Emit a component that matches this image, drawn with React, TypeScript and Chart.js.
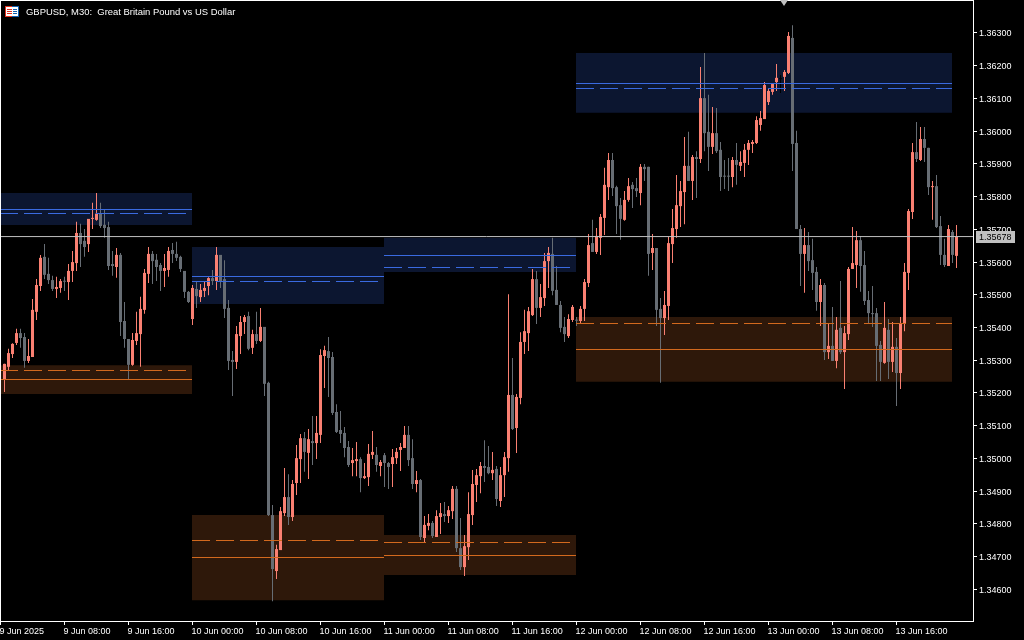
import React, { useEffect, useRef } from "react";
import { Chart, registerables } from "chart.js";

Chart.register(...registerables);

const opens = [
1.35242,1.35280,1.35319,1.35353,1.35383,1.35371,1.35298,1.35310,1.35448,1.35527,
1.35616,1.35564,1.35545,1.35518,1.35521,1.35542,1.35539,1.35573,1.35597,1.35689,
1.35665,1.35655,1.35732,1.35729,1.35748,1.35714,1.35707,1.35594,1.35585,1.35622,
1.35420,1.35365,1.35286,1.35359,1.35380,1.35454,1.35564,1.35625,1.35607,1.35591,
1.35573,1.35576,1.35637,1.35625,1.35616,1.35573,1.35509,1.35426,1.35518,1.35493,
1.35512,1.35527,1.35551,1.35542,1.35622,1.35548,1.35460,1.35301,1.35295,1.35374,
1.35417,1.35435,1.35338,1.35380,1.35359,1.35402,1.35231,1.34827,1.34656,1.34720,
1.34833,1.34882,1.34821,1.34925,1.34998,1.35062,1.35017,1.35053,1.35047,1.35072,
1.35313,1.35328,1.35310,1.35142,1.35087,1.35078,1.35035,1.34986,1.34992,1.34998,
1.34940,1.34943,1.35011,1.35011,1.34977,1.35010,1.34986,1.34983,1.35001,1.35026,
1.35032,1.35072,1.35001,1.34922,1.34934,1.34757,1.34794,1.34803,1.34760,1.34821,
1.34830,1.34824,1.34839,1.34907,1.34726,1.34668,1.34729,1.34827,1.34919,1.34946,
1.34977,1.34974,1.34955,1.34968,1.34870,1.34949,1.35001,1.35194,1.35093,1.35185,
1.35356,1.35383,1.35438,1.35548,1.35460,1.35490,1.35603,1.35625,1.35515,1.35469,
1.35402,1.35374,1.35423,1.35423,1.35420,1.35457,1.35536,1.35658,1.35631,1.35674,
1.35735,1.35829,1.35912,1.35829,1.35774,1.35729,1.35790,1.35836,1.35826,1.35811,
1.35891,1.35891,1.35628,1.35643,1.35457,1.35429,1.35466,1.35655,1.35701,1.35771,
1.35814,1.35894,1.35848,1.35921,1.35915,1.36101,1.35998,1.35952,1.35994,1.35943,
1.35863,1.35863,1.35860,1.35912,1.35894,1.35903,1.35943,1.35961,1.35964,1.36019,
1.36037,1.36089,1.36120,1.36150,1.36159,1.36166,1.36178,1.36285,1.35964,1.35701,
1.35625,1.35652,1.35606,1.35570,1.35478,1.35530,1.35325,1.35344,1.35298,1.35399,
1.35325,1.35380,1.35579,1.35591,1.35667,1.35591,1.35484,1.35444,1.35444,1.35347,
1.35292,1.35393,1.35295,1.35341,1.35261,1.35411,1.35567,1.35753,1.35936,1.35912,
1.35976,1.35949,1.35829,1.35832,1.35710,1.35622,1.35588,1.35692,1.35619,
];

const highs = [
1.35289,1.35335,1.35352,1.35396,1.35396,1.35383,1.35365,1.35487,1.35548,1.35622,
1.35655,1.35613,1.35558,1.35555,1.35548,1.35555,1.35594,1.35634,1.35723,1.35717,
1.35701,1.35732,1.35781,1.35811,1.35781,1.35759,1.35723,1.35634,1.35643,1.35628,
1.35478,1.35365,1.35383,1.35448,1.35494,1.35579,1.35646,1.35634,1.35625,1.35597,
1.35625,1.35646,1.35658,1.35662,1.35619,1.35573,1.35512,1.35530,1.35539,1.35533,
1.35539,1.35554,1.35576,1.35646,1.35622,1.35606,1.35484,1.35328,1.35405,1.35435,
1.35438,1.35448,1.35393,1.35448,1.35460,1.35402,1.35234,1.34858,1.34736,1.34852,
1.34971,1.34952,1.34934,1.35041,1.35075,1.35081,1.35090,1.35130,1.35130,1.35334,
1.35344,1.35371,1.35325,1.35166,1.35145,1.35096,1.35053,1.35032,1.35050,1.35004,
1.34986,1.35044,1.35084,1.35035,1.34995,1.35017,1.34989,1.35029,1.35032,1.35047,
1.35099,1.35099,1.35059,1.34962,1.34937,1.34824,1.34830,1.34809,1.34842,1.34864,
1.34867,1.34855,1.34916,1.34916,1.34818,1.34766,1.34897,1.34965,1.34968,1.34989,
1.35056,1.35038,1.35020,1.34977,1.34974,1.35020,1.35502,1.35307,1.35197,1.35386,
1.35454,1.35463,1.35579,1.35573,1.35533,1.35628,1.35646,1.35674,1.35588,1.35481,
1.35432,1.35441,1.35469,1.35432,1.35466,1.35548,1.35686,1.35729,1.35704,1.35747,
1.35888,1.35933,1.35933,1.35833,1.35796,1.35817,1.35857,1.35845,1.35857,1.35900,
1.35900,1.35891,1.35686,1.35643,1.35490,1.35512,1.35677,1.35762,1.35866,1.35848,
1.35982,1.35998,1.35927,1.35939,1.36196,1.36239,1.36111,1.36074,1.36071,1.35967,
1.35912,1.35918,1.35921,1.35964,1.35939,1.35961,1.35973,1.35973,1.36046,1.36062,
1.36150,1.36132,1.36146,1.36205,1.36172,1.36187,1.36303,1.36324,1.36001,1.35713,
1.35704,1.35692,1.35671,1.35585,1.35548,1.35536,1.35414,1.35463,1.35432,1.35542,
1.35405,1.35585,1.35707,1.35695,1.35680,1.35634,1.35512,1.35527,1.35460,1.35359,
1.35478,1.35426,1.35417,1.35368,1.35432,1.35597,1.35762,1.35964,1.36028,1.36013,
1.36013,1.35949,1.35848,1.35866,1.35741,1.35671,1.35713,1.35698,1.35713,
];

const lows = [
1.35203,1.35270,1.35307,1.35347,1.35338,1.35277,1.35292,1.35310,1.35423,1.35512,
1.35548,1.35533,1.35512,1.35490,1.35506,1.35512,1.35484,1.35539,1.35573,1.35585,
1.35616,1.35631,1.35701,1.35726,1.35704,1.35674,1.35576,1.35558,1.35552,1.35374,
1.35338,1.35243,1.35283,1.35347,1.35280,1.35442,1.35536,1.35533,1.35542,1.35512,
1.35524,1.35555,1.35597,1.35603,1.35570,1.35490,1.35475,1.35408,1.35460,1.35478,
1.35493,1.35499,1.35530,1.35515,1.35521,1.35429,1.35270,1.35191,1.35273,1.35319,
1.35380,1.35331,1.35319,1.35350,1.35356,1.35191,1.34824,1.34564,1.34632,1.34720,
1.34824,1.34797,1.34809,1.34888,1.34925,1.34959,1.34937,1.34980,1.34998,1.35047,
1.35215,1.35188,1.35133,1.35078,1.35047,1.35004,1.34974,1.34946,1.34946,1.34897,
1.34937,1.34916,1.34998,1.34959,1.34946,1.34913,1.34907,1.34913,1.34983,1.34962,
1.35032,1.34977,1.34907,1.34897,1.34751,1.34745,1.34781,1.34757,1.34760,1.34769,
1.34806,1.34803,1.34815,1.34714,1.34659,1.34641,1.34690,1.34797,1.34867,1.34894,
1.34928,1.34952,1.34934,1.34855,1.34852,1.34882,1.34959,1.35087,1.35017,1.35166,
1.35319,1.35328,1.35435,1.35411,1.35432,1.35466,1.35521,1.35499,1.35469,1.35386,
1.35356,1.35368,1.35417,1.35405,1.35414,1.35420,1.35524,1.35631,1.35625,1.35622,
1.35683,1.35790,1.35802,1.35686,1.35668,1.35726,1.35784,1.35765,1.35799,1.35774,
1.35848,1.35558,1.35576,1.35405,1.35231,1.35377,1.35423,1.35597,1.35674,1.35707,
1.35716,1.35848,1.35790,1.35796,1.35903,1.35939,1.35878,1.35930,1.35933,1.35817,
1.35823,1.35817,1.35829,1.35836,1.35878,1.35860,1.35897,1.35933,1.35961,1.36001,
1.36037,1.36080,1.36111,1.36123,1.36117,1.36123,1.36175,1.35878,1.35701,1.35527,
1.35506,1.35573,1.35515,1.35451,1.35405,1.35301,1.35304,1.35298,1.35276,1.35319,
1.35212,1.35362,1.35579,1.35521,1.35509,1.35469,1.35414,1.35402,1.35237,1.35237,
1.35289,1.35243,1.35264,1.35160,1.35212,1.35389,1.35515,1.35732,1.35906,1.35909,
1.35906,1.35805,1.35729,1.35704,1.35591,1.35585,1.35588,1.35597,1.35582,
];

const closes = [
1.35289,1.35322,1.35350,1.35383,1.35368,1.35298,1.35313,1.35454,1.35530,1.35613,
1.35561,1.35545,1.35518,1.35524,1.35542,1.35540,1.35573,1.35600,1.35689,1.35655,
1.35646,1.35732,1.35735,1.35748,1.35710,1.35704,1.35588,1.35588,1.35622,1.35417,
1.35365,1.35286,1.35362,1.35383,1.35457,1.35567,1.35625,1.35603,1.35585,1.35573,
1.35582,1.35634,1.35625,1.35613,1.35579,1.35509,1.35478,1.35521,1.35496,1.35515,
1.35521,1.35551,1.35542,1.35622,1.35542,1.35457,1.35298,1.35295,1.35380,1.35417,
1.35432,1.35335,1.35380,1.35359,1.35402,1.35228,1.34827,1.34662,1.34723,1.34839,
1.34882,1.34821,1.34922,1.35001,1.35062,1.35020,1.35059,1.35047,1.35078,1.35316,
1.35331,1.35307,1.35139,1.35081,1.35075,1.35032,1.34980,1.34995,1.34998,1.34940,
1.34946,1.35014,1.35020,1.34980,1.34989,1.34986,1.34974,1.35004,1.35020,1.35035,
1.35072,1.34995,1.34922,1.34934,1.34760,1.34797,1.34803,1.34763,1.34824,1.34833,
1.34824,1.34842,1.34907,1.34726,1.34668,1.34732,1.34830,1.34922,1.34949,1.34977,
1.34971,1.34955,1.34965,1.34876,1.34949,1.35004,1.35194,1.35090,1.35188,1.35356,
1.35389,1.35450,1.35548,1.35460,1.35493,1.35603,1.35628,1.35512,1.35469,1.35399,
1.35380,1.35426,1.35463,1.35421,1.35457,1.35539,1.35652,1.35631,1.35680,1.35738,
1.35836,1.35912,1.35826,1.35771,1.35732,1.35790,1.35832,1.35823,1.35817,1.35891,
1.35884,1.35625,1.35643,1.35454,1.35429,1.35469,1.35658,1.35704,1.35774,1.35817,
1.35894,1.35848,1.35921,1.35915,1.36101,1.35994,1.35952,1.35994,1.35939,1.35860,
1.35861,1.35861,1.35912,1.35897,1.35906,1.35943,1.35964,1.35967,1.36034,1.36040,
1.36141,1.36123,1.36144,1.36163,1.36159,1.36181,1.36291,1.35961,1.35701,1.35625,
1.35652,1.35603,1.35567,1.35478,1.35530,1.35325,1.35344,1.35298,1.35393,1.35325,
1.35383,1.35579,1.35597,1.35667,1.35588,1.35481,1.35444,1.35441,1.35344,1.35295,
1.35399,1.35295,1.35341,1.35261,1.35414,1.35570,1.35756,1.35936,1.35915,1.35976,
1.35949,1.35829,1.35832,1.35707,1.35622,1.35591,1.35701,1.35622,1.35678,
];

const yTickValues = [1.36300,1.36200,1.36100,1.36000,1.35900,1.35800,1.35700,1.35600,1.35500,1.35400,1.35300,1.35200,1.35100,1.35000,1.34900,1.34800,1.34700,1.34600];
const xTickBars = [-1,15,31,47,63,79,95,111,127,143,159,175,191,207,223];
const xTickLabels = ["9 Jun 2025","9 Jun 08:00","9 Jun 16:00","10 Jun 00:00","10 Jun 08:00","10 Jun 16:00","11 Jun 00:00","11 Jun 08:00","11 Jun 16:00","12 Jun 00:00","12 Jun 08:00","12 Jun 16:00","13 Jun 00:00","13 Jun 08:00","13 Jun 16:00"];

// Session zones, one entry per day
const zoneStarts = [-1.125,46.875,94.875,142.875];
const zoneEnds = [46.875,94.875,142.875,236.875];
const resistanceTop = [1.35811,1.35646,1.35674,1.36239];
const resistanceBottom = [1.35713,1.35472,1.35570,1.36056];
const resistanceSolid = [1.3576069,1.3555596,1.3562013,1.3614569];
const resistanceDashed = [1.3574846,1.3554068,1.3558346,1.3613041];
const supportTop = [1.35285,1.34827,1.34766,1.35432];
const supportBottom = [1.35197,1.34567,1.34644,1.35234];
const supportDashed = [1.3526874,1.3474929,1.3474318,1.3541235];
const supportSolid = [1.3524124,1.3469734,1.3470346,1.3533291];

const currentPrice = 1.35678;
const titleText = "GBPUSD, M30:  Great Britain Pound vs US Dollar";

const UP = "#fa8072";
const DOWN = "#676d74";
const DOJI = "#000000";
const AXIS = "#ffffff";
const FONT = "Liberation Sans";
const X_MIN = -1.125;
const X_MAX = 242.125;
const Y_MAX = 1.3640083;
const Y_MIN = 1.3450333;

const candleColor = (i: number) =>
  closes[i] > opens[i] ? UP : closes[i] < opens[i] ? DOWN : DOJI;

const noPadding = (s: any) => {
  s.paddingLeft = 0;
  s.paddingRight = 0;
  s.paddingTop = 0;
  s.paddingBottom = 0;
};

const decor = {
  id: "decor",
  beforeDraw(chart: any) {
    const c = chart.ctx;
    c.save();
    c.fillStyle = "#000000";
    c.fillRect(0, 0, chart.width, chart.height);
    c.restore();
  },
  afterDraw(chart: any) {
    const c = chart.ctx;
    const { chartArea: a, scales } = chart;
    c.save();
    c.fillStyle = AXIS;
    c.fillRect(0, 0, a.right, 1);
    c.fillRect(0, 0, 1, a.bottom);
    // terminal icon
    c.fillStyle = "#ffffff";
    c.fillRect(5, 6, 14, 11);
    c.fillStyle = "#e03020";
    c.fillRect(5, 6, 8, 1); c.fillRect(5, 16, 8, 1); c.fillRect(5, 6, 1, 11);
    c.fillRect(7, 9, 5, 1); c.fillRect(7, 11, 5, 1); c.fillRect(7, 13, 5, 1);
    c.fillStyle = "#1060b0";
    c.fillRect(12, 6, 7, 1); c.fillRect(12, 16, 7, 1); c.fillRect(18, 6, 1, 11);
    c.fillRect(13, 9, 4, 1); c.fillRect(13, 11, 4, 1); c.fillRect(13, 13, 4, 1);
    // title
    c.fillStyle = "#ffffff";
    c.font = `9.45px "${FONT}"`;
    c.textBaseline = "alphabetic";
    c.textAlign = "left";
    c.fillText(titleText, 26, 15);
    // latest-bar marker
    c.fillStyle = "#c0c0c0";
    c.beginPath();
    c.moveTo(780, 0); c.lineTo(788, 0); c.lineTo(784, 6); c.closePath(); c.fill();
    // price tag
    const y = Math.round(scales.y.getPixelForValue(currentPrice));
    c.fillStyle = "#c0c0c0";
    c.fillRect(976, y - 6, 39, 12);
    c.fillStyle = "#000000";
    c.font = `9px "${FONT}"`;
    c.textBaseline = "middle";
    c.fillText(currentPrice.toFixed(5), 979, y + 1);
    c.restore();
  },
};

export default function App() {
  const ref = useRef<HTMLCanvasElement>(null);
  useEffect(() => {
    const bars = opens.map((_, i) => i);
    const zone = (k: number, top: number, bottom: number, color: string) => ({
      type: "line" as const,
      order: 3,
      data: [{ x: zoneStarts[k], y: top }, { x: zoneEnds[k], y: top }],
      borderWidth: 0,
      pointRadius: 0,
      backgroundColor: color,
      fill: { value: bottom },
    });
    const level = (k: number, v: number, color: string, dash: number[]) => ({
      type: "line" as const,
      order: 0,
      data: [{ x: zoneStarts[k], y: v }, { x: zoneEnds[k], y: v }],
      borderColor: color,
      borderWidth: 1,
      borderDash: dash,
      pointRadius: 0,
      fill: false,
    });
    const BLUE = "#3a6ae0";
    const ORANGE = "#d2691e";
    const zoneSets: any[] = [];
    zoneStarts.forEach((_, k) => {
      zoneSets.push(zone(k, resistanceTop[k], resistanceBottom[k], "#0c1630"));
      zoneSets.push(zone(k, supportTop[k], supportBottom[k], "#2e180a"));
      zoneSets.push(level(k, resistanceSolid[k], BLUE, []));
      zoneSets.push(level(k, resistanceDashed[k], BLUE, [18, 6]));
      zoneSets.push(level(k, supportSolid[k], ORANGE, []));
      zoneSets.push(level(k, supportDashed[k], ORANGE, [18, 6]));
    });
    const chart = new Chart(ref.current as HTMLCanvasElement, {
      type: "bar",
      data: {
        datasets: [
          ...zoneSets,
          {
            type: "line",
            order: 0,
            data: [{ x: X_MIN, y: currentPrice }, { x: X_MAX, y: currentPrice }],
            borderColor: "#c0c0c0",
            borderWidth: 1,
            pointRadius: 0,
            fill: false,
          },
          {
            order: 2,
            grouped: false,
            barThickness: 1,
            inflateAmount: 0,
            borderWidth: 0,
            data: bars.map((i) => ({ x: i, y: [lows[i], highs[i]] })),
            backgroundColor: bars.map(candleColor),
          },
          {
            order: 1,
            grouped: false,
            barThickness: 3,
            minBarLength: 1,
            inflateAmount: 0,
            borderWidth: 0,
            data: bars.map((i) => ({ x: i, y: [opens[i], closes[i]] })),
            backgroundColor: bars.map(candleColor),
          },
        ] as any,
      },
      options: {
        responsive: false,
        animation: false,
        devicePixelRatio: 1,
        layout: { padding: 0, autoPadding: false },
        plugins: { legend: { display: false }, tooltip: { enabled: false }, title: { display: false } },
        scales: {
          x: {
            type: "linear",
            offset: false,
            min: X_MIN,
            max: X_MAX,
            border: { color: AXIS, width: 1 },
            grid: { drawOnChartArea: false, drawTicks: true, tickColor: AXIS, tickLength: 4, offset: false },
            ticks: {
              color: AXIS,
              font: { family: FONT, size: 9 },
              align: "start",
              autoSkip: false,
              maxRotation: 0,
              padding: 1,
              labelOffset: -1,
              callback: (v: any) => xTickLabels[xTickBars.indexOf(v)] ?? "",
            },
            afterBuildTicks: (s: any) => { s.ticks = xTickBars.map((value) => ({ value })); },
            afterFit: (s: any) => { s.height = 19; noPadding(s); },
          },
          y: {
            type: "linear",
            position: "right",
            min: Y_MIN,
            max: Y_MAX,
            border: { color: AXIS, width: 1 },
            grid: { drawOnChartArea: false, drawTicks: true, tickColor: AXIS, tickLength: 4 },
            ticks: {
              color: AXIS,
              font: { family: FONT, size: 9 },
              padding: 2,
              labelOffset: 1,
              autoSkip: false,
              callback: (v: any) => Number(v).toFixed(5),
            },
            afterBuildTicks: (s: any) => { s.ticks = yTickValues.map((value) => ({ value })); },
            afterFit: (s: any) => { s.width = 51; noPadding(s); },
          },
        },
      } as any,
      plugins: [decor],
    });
    return () => chart.destroy();
  }, []);
  return (
    <div style={{ position: "fixed", left: 0, top: 0, width: 1024, height: 640, background: "#000" }}>
      <canvas ref={ref} width={1024} height={640} style={{ display: "block" }} />
    </div>
  );
}
